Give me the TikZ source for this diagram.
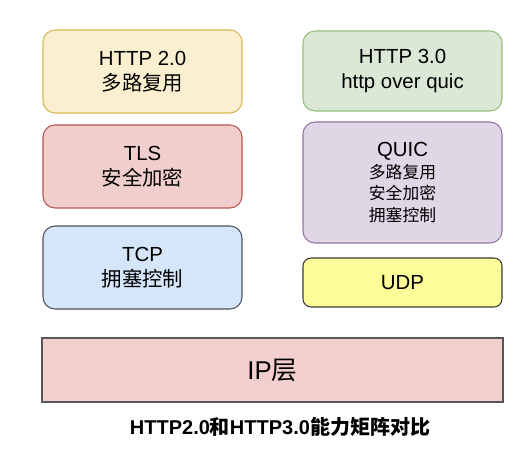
\documentclass[tikz,border=0pt]{standalone}
\usepackage{fontspec}
\setmainfont{Liberation Sans}
\newfontfamily\cjk{Noto Sans CJK SC}
\definecolor{yfill}{HTML}{FAF0D0}\definecolor{ydraw}{HTML}{D6B656}
\definecolor{rfill}{HTML}{F0CECC}\definecolor{rdraw}{HTML}{B85450}
\definecolor{bfill}{HTML}{D6E6FA}\definecolor{bdraw}{HTML}{4D5158}
\definecolor{gfill}{HTML}{DAE8D5}\definecolor{gdraw}{HTML}{97BD7E}
\definecolor{pfill}{HTML}{E0D7E6}\definecolor{pdraw}{HTML}{9673A6}
\definecolor{ufill}{HTML}{FCFC98}\definecolor{udraw}{HTML}{36393D}
\definecolor{ipfill}{HTML}{F2CECC}\definecolor{ipdraw}{HTML}{55575A}
\tikzset{
  layer/.style={rounded corners=9pt, line width=0.8pt},
  lbl/.style={align=center, inner sep=0pt, font=\fontsize{15.3}{19}\selectfont},
  lblsm/.style={align=center, inner sep=0pt, font=\fontsize{12.6}{16.3}\selectfont},
}
\begin{document}
\begin{tikzpicture}[x=0.75pt,y=-0.75pt]
\useasboundingbox (0,0) rectangle (518,452);
% left column
\draw[layer, fill=yfill, draw=ydraw] (43,30) rectangle (242,113);
\node[lbl] (h2) at (142.5,71.5) {HTTP 2.0\\{\cjk 多路复用}};
\draw[layer, fill=rfill, draw=rdraw] (43,125) rectangle (242,208);
\node[lbl] (tls) at (142.5,166.5) {TLS\\{\cjk 安全加密}};
\draw[layer, fill=bfill, draw=bdraw] (43,226) rectangle (242,309);
\node[lbl] (tcp) at (142.5,267.5) {TCP\\{\cjk 拥塞控制}};
% right column
\draw[layer, fill=gfill, draw=gdraw] (303,31) rectangle (502,111);
\node[lbl] (h3) at (402.5,71) {HTTP 3.0\\http over quic};
\draw[layer, fill=pfill, draw=pdraw] (303,122) rectangle (502,243);
\node[lblsm] (quic) at (402.5,182.5) {{\fontsize{15.3}{16.3}\selectfont QUIC}\\{\cjk 多路复用}\\{\cjk 安全加密}\\{\cjk 拥塞控制}};
\draw[layer, rounded corners=6pt, fill=ufill, draw=udraw] (303,258) rectangle (502,307);
\node[lbl] (udp) at (402.5,282.5) {UDP};
% IP layer
\draw[line width=0.8pt, fill=ipfill, draw=ipdraw] (42,338) rectangle (503,402);
\node[font=\fontsize{19.3}{23}\selectfont] (ip) at (272.5,370) {IP{\cjk 层}};
% caption
\node[font=\bfseries\fontsize{15}{18}\selectfont] (cap) at (280,427) {HTTP2.0{\cjk\bfseries 和}HTTP3.0{\cjk\bfseries 能力矩阵对比}};
\end{tikzpicture}
\end{document}
